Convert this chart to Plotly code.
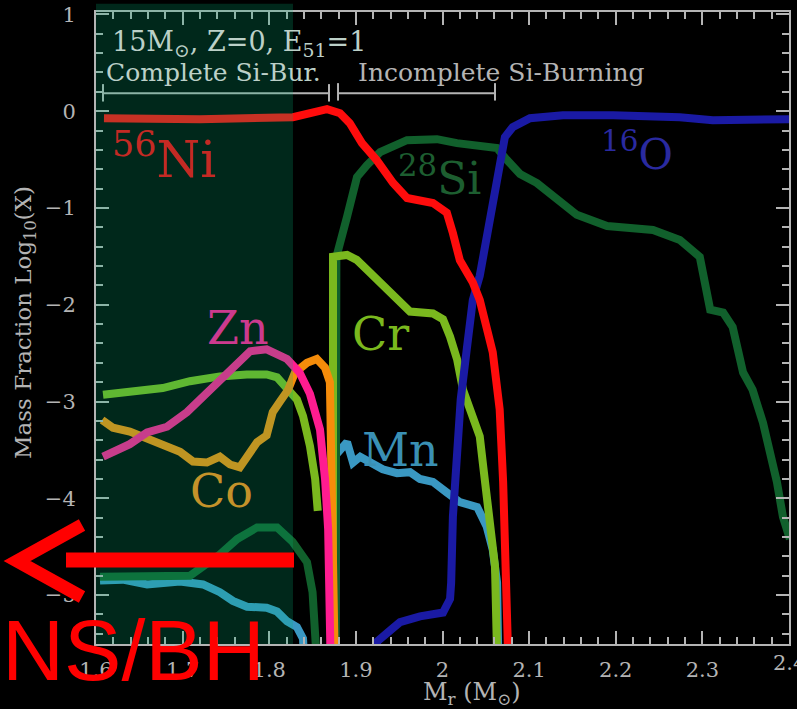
import plotly.graph_objects as go

# Mass coordinate (M_sun) and log10 mass fraction for each species.
# Values below the lower axis limit are written as -6 so the line leaves the frame.
ni56_m = [1.6092, 1.720, 1.8274, 1.847, 1.8667, 1.8817, 1.893, 1.907, 1.924, 1.943, 1.959,
          1.989, 2.005, 2.012, 2.020, 2.035, 2.043, 2.058, 2.066, 2.070, 2.074, 2.077]
ni56_x = [-0.072, -0.082, -0.062, -0.021, 0.021, -0.021, -0.124, -0.33, -0.505, -0.742, -0.897,
          -0.948, -1.05, -1.26, -1.54, -1.77, -1.95, -2.49, -3.08, -3.83, -4.87, -6.0]

o16_m = [1.923, 1.9244, 1.939, 1.951, 1.974, 2.0006, 2.0087, 2.010, 2.012, 2.016, 2.021, 2.028,
         2.035, 2.043, 2.051, 2.058, 2.066, 2.072, 2.081, 2.101, 2.139, 2.197, 2.274, 2.312, 2.400]
o16_x = [-6.0, -5.48, -5.37, -5.28, -5.22, -5.18, -5.04, -4.87, -4.19, -3.49, -2.98, -2.46,
         -1.95, -1.70, -1.33, -1.02, -0.577, -0.268, -0.165, -0.072, -0.041, -0.041, -0.062, -0.093, -0.082]

si28_m = [1.6046, 1.662, 1.7085, 1.743, 1.763, 1.786, 1.809, 1.827, 1.8436, 1.850, 1.855, 1.857,
          1.8765, 1.8775, 1.8898, 1.9013, 1.9128, 1.928, 1.959, 1.9936, 2.0167, 2.043, 2.063,
          2.0745, 2.0895, 2.109, 2.155, 2.190, 2.243, 2.274, 2.297, 2.309, 2.324, 2.335, 2.347,
          2.358, 2.370, 2.386, 2.393, 2.401]
si28_x = [-4.81, -4.80, -4.80, -4.58, -4.42, -4.30, -4.30, -4.45, -4.66, -4.97, -5.48, -6.0,
          -6.0, -1.505, -1.09, -0.68, -0.557, -0.423, -0.299, -0.289, -0.330, -0.350, -0.381,
          -0.505, -0.649, -0.742, -1.07, -1.186, -1.227, -1.33, -1.505, -2.05, -2.08, -2.23, -2.70,
          -2.88, -3.22, -3.83, -4.19, -4.42]

cr_m = [1.6081, 1.639, 1.677, 1.7085, 1.743, 1.774, 1.797, 1.809, 1.8205, 1.832, 1.839, 1.847,
        1.853, 1.856, None, 1.8736, 1.8736, 1.8898, 1.901, 1.913, 1.928, 1.9475, 1.9625, 1.989,
        2.0006, 2.0087, 2.017, 2.0237, 2.035, 2.043, 2.047, 2.055, 2.0606, 2.064]
cr_x = [-2.93, -2.90, -2.86, -2.79, -2.74, -2.72, -2.72, -2.75, -2.86, -2.98, -3.15, -3.46,
        -3.80, -4.13, None, -6.0, -1.505, -1.485, -1.536, -1.64, -1.77, -1.95, -2.07, -2.09,
        -2.15, -2.33, -2.57, -2.88, -3.15, -3.36, -3.67, -4.19, -4.70, -6.0]

zn_m = [1.6081, 1.639, 1.659, 1.682, 1.705, 1.728, 1.7466, 1.763, 1.778, 1.797, 1.8205, 1.835,
        1.847, 1.8586, 1.8644, 1.868, 1.870, 1.8715]
zn_x = [-3.57, -3.44, -3.32, -3.26, -3.11, -2.91, -2.74, -2.59, -2.48, -2.46, -2.56, -2.70,
        -2.92, -3.29, -3.80, -4.32, -5.01, -6.0]

co_m = [1.607, 1.6196, 1.639, 1.659, 1.677, 1.697, 1.712, 1.728, 1.743, 1.7547, 1.766, 1.7743,
        1.786, 1.797, 1.804, 1.8124, 1.8217, 1.8297, 1.8436, 1.855, 1.8644, 1.870, 1.8725,
        1.8736, 1.8762]
co_x = [-3.19, -3.27, -3.31, -3.39, -3.46, -3.52, -3.62, -3.63, -3.57, -3.65, -3.68, -3.57,
        -3.42, -3.35, -3.11, -3.00, -2.88, -2.70, -2.60, -2.56, -2.65, -2.80, -3.63,
        -4.66, -6.0]

mn_m = [1.6046, 1.631, 1.659, 1.697, 1.7235, 1.743, 1.758, 1.7743, 1.797, 1.809, 1.8205, 1.832,
        1.839, 1.842, None, 1.876, 1.877, 1.8898, 1.8967, 1.905, 1.916, 1.931, 1.9475, 1.9625,
        1.974, 1.989, 2.005, 2.020, 2.040, 2.051, 2.058, 2.063, 2.065]
mn_x = [-4.85, -4.84, -4.89, -4.86, -4.89, -4.97, -5.06, -5.12, -5.13, -5.17, -5.27, -5.33,
        -5.45, -6.0, None, -6.0, -3.55, -3.42, -3.63, -3.57, -3.63, -3.70, -3.74, -3.73,
        -3.80, -3.83, -3.94, -4.04, -4.09, -4.29, -4.53, -4.87, -6.0]

x_ticks = [1.6, 1.7, 1.8, 1.9, 2.0, 2.1, 2.2, 2.3]
x_tick_text = ["1.6", "1.7", "1.8", "1.9", "2", "2.1", "2.2", "2.3"]
x_last_tick = 2.4
y_ticks = [-5, -4, -3, -2, -1, 0, 1]
y_tick_text = ["\u22125", "\u22124", "\u22123", "\u22122", "\u22121", "0", "1"]

complete_si_edge = 1.8274   # outer edge of the complete Si-burning zone

species = [
    ("Mn", mn_m, mn_x, "#3a98c2"),
    ("Si28", si28_m, si28_x, "#11602c"),
    ("Cr", cr_m, cr_x, "#7ab81e"),
    ("Co", co_m, co_x, "#f58c0a"),
    ("Zn", zn_m, zn_x, "#ff1c90"),
    ("O16", o16_m, o16_x, "#1a1aa4"),
    ("Ni56", ni56_m, ni56_x, "#ff0c0c"),
]

fig = go.Figure()
for name, m, x, col in species:
    fig.add_trace(go.Scatter(x=m, y=x, mode="lines", name=name,
                             line=dict(color=col, width=8), showlegend=False,
                             hoverinfo="skip", connectgaps=False))

grey = "#b4b4b4"
serif = "DejaVu Serif"

# Brackets marking the complete / incomplete Si-burning zones
def bracket(x0, x1, y, lo, hi):
    fig.add_shape(type="line", x0=x0, x1=x1, y0=y, y1=y, xref="x", yref="y",
                  line=dict(color=grey, width=2), layer="above")
    for xe in (x0, x1):
        fig.add_shape(type="line", x0=xe, x1=xe, y0=lo, y1=hi, xref="x", yref="y",
                      line=dict(color=grey, width=2), layer="above")

bracket(1.6081, 1.869, 0.185, 0.10, 0.28)
bracket(1.8794, 2.0606, 0.185, 0.11, 0.29)

# Translucent tint over the complete Si-burning zone
fig.add_shape(type="rect", xref="x", yref="paper", x0=1.6, x1=complete_si_edge,
              y0=0, y1=1.013, fillcolor="rgba(0,180,125,0.22)", line=dict(width=0),
              layer="above")

# Arrow pointing toward the remnant
red = "#ff0000"
W, H = 797, 709
L, R, T, B = 96, 8, 12, 65
pw, ph = W - L - R, H - T - B


def px(xp):
    return (xp - L) / pw


def py(yp):
    return (H - B - yp) / ph


fig.add_shape(type="line", xref="paper", yref="paper", x0=px(66), x1=px(294),
              y0=py(560), y1=py(560), line=dict(color=red, width=15), layer="above")
fig.add_shape(type="path", xref="paper", yref="paper",
              path=f"M {px(82)} {py(525)} L {px(17)} {py(561)} L {px(82)} {py(597)}",
              line=dict(color=red, width=13), layer="above")

ann = []


def label(text, x, y, color, size, xref="x", yref="y", family=serif, **kw):
    ann.append(dict(text=text, x=x, y=y, xref=xref, yref=yref, showarrow=False,
                    xanchor=kw.pop("xanchor", "left"), yanchor=kw.pop("yanchor", "middle"),
                    font=dict(color=color, size=size, family=family), **kw))


label("15M<sub>\u2299</sub>, Z=0, E<sub>51</sub>=1", 1.6165, 0.70, "#bcd0c8", 27)
label("Complete Si-Bur.", 1.609, 0.40, "#bcd0c8", 25)
label("Incomplete Si-Burning", 1.900, 0.40, grey, 25)

label("<sup>56</sup>Ni", 1.616, -0.47, "#c42a24", 50)
label("<sup>28</sup>Si", 1.946, -0.66, "#1d5e30", 44)
label("<sup>16</sup>O", 2.181, -0.42, "#2a2aa0", 42)
label("Zn", 1.726, -2.24, "#cc3a8e", 46)
label("Cr", 1.893, -2.30, "#7ab81e", 46)
label("Mn", 1.905, -3.50, "#3a90b4", 46)
label("Co", 1.706, -3.92, "#c4922a", 46)

# Last bottom tick label sits on the right edge of the page
label("2.4", 1.0, py(663), grey, 21, xref="paper", yref="paper", xanchor="center")

# Axis titles
label("Mass Fraction Log<sub>10</sub>(X)", px(25), py(323), grey, 23,
      xref="paper", yref="paper", xanchor="center", textangle=-90)
label("M<sub>r</sub> (M<sub>\u2299</sub>)", px(472), py(693), grey, 24,
      xref="paper", yref="paper", xanchor="center")

label("NS/BH", px(0), py(650), red, 86, xref="paper", yref="paper",
      family="Liberation Sans")

axis_common = dict(showgrid=False, zeroline=False, showline=True, linecolor=grey,
                   linewidth=2, mirror="ticks", ticks="inside", ticklen=13,
                   tickwidth=2, tickcolor=grey,
                   tickfont=dict(family=serif, size=21, color=grey))

fig.update_xaxes(range=[1.6, x_last_tick], tickvals=x_ticks + [x_last_tick],
                 ticktext=x_tick_text + [""],
                 minor=dict(ticks="inside", ticklen=7, dtick=0.02, tickcolor=grey, tickwidth=2),
                 ticklabelstandoff=6, **axis_common)
fig.update_yaxes(range=[-5.505, 1.025], tickvals=y_ticks, ticktext=y_tick_text,
                 minor=dict(ticks="inside", ticklen=7, dtick=0.2, tickcolor=grey, tickwidth=2),
                 ticklabelstandoff=14, **axis_common)

fig.update_layout(width=W, height=H, margin=dict(l=L, r=R, t=T, b=B, autoexpand=False),
                  paper_bgcolor="black", plot_bgcolor="black", annotations=ann,
                  showlegend=False)

fig.write_html("out.html")
